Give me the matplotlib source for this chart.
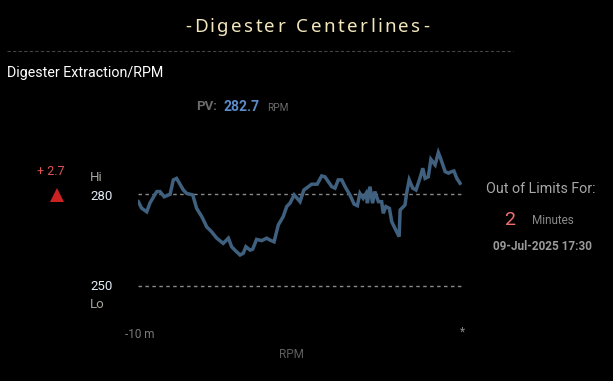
import matplotlib
matplotlib.use("Agg")
import matplotlib.pyplot as plt
from matplotlib.lines import Line2D
from matplotlib import font_manager

# ---------------- data ----------------
minutes = [-9.99, -9.89, -9.73, -9.63, -9.42, -9.32, -9.19, -9.01, -8.91, -8.81,
           -8.60, -8.50, -8.31, -8.19, -8.03, -7.88, -7.73, -7.57, -7.37, -7.21,
           -7.11, -7.01, -6.85, -6.75, -6.67, -6.54, -6.46, -6.34, -6.18, -6.03,
           -5.93, -5.80, -5.67, -5.52, -5.41, -5.31, -5.18, -5.00, -4.88, -4.74,
           -4.64, -4.47, -4.33, -4.23, -4.02, -3.92, -3.82, -3.71, -3.61, -3.46,
           -3.33, -3.23, -3.15, -3.05, -2.96, -2.92, -2.84, -2.76, -2.69, -2.58,
           -2.48, -2.43, -2.35, -2.24, -2.17, -2.07, -1.94, -1.91, -1.76, -1.71,
           -1.63, -1.52, -1.42, -1.30, -1.21, -1.14, -1.04, -0.96, -0.83, -0.73,
           -0.66, -0.52, -0.42, -0.32, -0.25, -0.16, -0.06]
rpm = [277.5, 275.4, 274.2, 277.1, 280.8, 280.8, 279.1, 279.9, 284.6, 285.1,
       281.3, 280.2, 279.7, 275.3, 272.6, 269.3, 267.7, 265.6, 263.9, 265.6,
       262.8, 261.7, 260.1, 260.7, 262.8, 261.7, 262.0, 265.2, 264.8, 265.6,
       265.0, 264.4, 269.9, 272.6, 275.9, 277.0, 279.7, 277.5, 281.3, 282.4,
       283.2, 283.2, 285.9, 285.6, 282.4, 281.9, 284.6, 284.6, 282.4, 279.7,
       276.7, 276.2, 280.2, 278.6, 280.2, 277.0, 282.4, 277.0, 280.8, 277.5,
       277.5, 273.7, 275.9, 275.3, 271.0, 268.8, 266.1, 274.8, 276.4, 280.2,
       284.6, 281.9, 281.3, 285.1, 288.4, 285.1, 285.6, 291.3, 289.5, 293.5,
       291.6, 287.3, 286.8, 287.3, 287.5, 285.1, 283.5]
hi_limit = 280
lo_limit = 250
pv = 282.7
deviation = 2.7
out_minutes = 2
timestamp = "09-Jul-2025 17:30"
x_start_label = "-10 m"
x_end_label = "*"

# ---------------- figure ----------------
W, H = 613, 381
fig = plt.figure(figsize=(W / 100, H / 100), dpi=100, facecolor="black")
renderer = fig.canvas.get_renderer()

def fx(px):
    return px / W

def fy(py):
    return 1 - py / H

ROB = ["Roboto", "DejaVu Sans"]
_names = {f.name for f in font_manager.fontManager.ttflist}
if "Liberation Sans Narrow" in _names:
    COND = ["Liberation Sans Narrow", "DejaVu Sans"]
else:
    COND = ROB

def fit_text(x, y, s, width, **kw):
    """Place text and shrink font so that it spans the given pixel width."""
    t = fig.text(fx(x), fy(y), s, **kw)
    w = t.get_window_extent(renderer).width
    if w > 0:
        t.set_fontsize(t.get_fontsize() * width / w)
    return t

# plot axes
ylo, yhi = 245, 297
ppu = 92 / 30.0
top_px = 194 - (yhi - 280) * ppu
bot_px = 286 + (250 - ylo) * ppu
ax = fig.add_axes([fx(138), fy(bot_px), fx(462) - fx(138), (bot_px - top_px) / H])
ax.set_facecolor("black")
ax.set_xlim(-10, 0)
ax.set_ylim(ylo, yhi)
for s in ax.spines.values():
    s.set_visible(False)
ax.set_xticks([])
ax.set_yticks([])
ax.axhline(hi_limit, color="#8a8a8a", lw=1.0, ls=(0, (2.5, 2.5)), zorder=1)
ax.axhline(lo_limit, color="#8a8a8a", lw=1.0, ls=(0, (2.5, 2.5)), zorder=1)
ax.plot(minutes, rpm, color="#40607f", lw=2.5, solid_joinstyle="miter", zorder=2)

# title with letter spacing
title = "-Digester Centerlines-"
spacing = 2.4
tkw = dict(fontsize=13.5, color="#f3e7bd", family=["Noto Sans", "DejaVu Sans"], va="center", ha="left")
widths = []
for ch in title:
    t = fig.text(0, 0, ch if ch != " " else "n", **tkw)
    widths.append(t.get_window_extent(renderer).width)
    t.remove()
sp_w = widths[title.index(" ")] * 0.55
widths = [sp_w if c == " " else w for c, w in zip(title, widths)]
total = sum(widths) + spacing * (len(title) - 1)
x = 307 - total / 2
for ch, w in zip(title, widths):
    if ch != " ":
        fig.text(fx(x), fy(27), ch, **tkw)
    x += w + spacing

# separator
fig.add_artist(Line2D([fx(7), fx(513)], [fy(50.5), fy(50.5)], color="#444444", lw=0.8,
                      ls=(0, (3, 2))))

fit_text(7, 73, "Digester Extraction/RPM", 157, color="white", fontsize=11.5,
         family=COND, va="center", ha="left")

# PV line
fit_text(196, 107, "PV:", 21, color="#6a6a6a", fontsize=12.5, fontweight="bold",
         family=COND, va="center", ha="left")
fit_text(223, 107, f"{pv:.1f}", 36, color="#5b8bc8", fontsize=12.5, fontweight="bold",
         family=COND, va="center", ha="left")
fit_text(267, 108, "RPM", 21, color="#6a6a6a", fontsize=8.5,
         family=COND, va="center", ha="left")

# left labels
fig.text(fx(51), fy(172), f"+ {deviation}", color="#e05555", fontsize=9,
         family=ROB, va="center", ha="center")
fig.add_artist(Line2D([fx(57)], [fy(194.5)], marker="^", markersize=9.5, color="#cc2222",
                      markeredgewidth=0))
fig.text(fx(90), fy(177), "Hi", color="#a9a39c", fontsize=9.5,
         family=ROB, va="center", ha="left")
fig.text(fx(90), fy(197), f"{hi_limit}", color="#e2ecf6", fontsize=9.5,
         family=ROB, va="center", ha="left")
fig.text(fx(90), fy(287), f"{lo_limit}", color="#e2ecf6", fontsize=9.5,
         family=ROB, va="center", ha="left")
fig.text(fx(90), fy(305), "Lo", color="#a9a39c", fontsize=9.5,
         family=ROB, va="center", ha="left")

# x labels
fig.text(fx(125), fy(335), x_start_label, color="#7a7a7a", fontsize=8.5,
         family=ROB, va="center", ha="left")
fig.text(fx(462), fy(332), x_end_label, color="#8a8a8a", fontsize=8.5,
         family=ROB, va="center", ha="center")
fig.text(fx(291), fy(355), "RPM", color="#5e5e5e", fontsize=8.5,
         family=ROB, va="center", ha="center")

# right panel
fig.text(fx(540.5), fy(189), "Out of Limits For:", color="#a8a8a8", fontsize=10.3,
         family=ROB, va="center", ha="center")
fig.text(fx(510), fy(220), f"{out_minutes}", color="#f07070", fontsize=14,
         family=ROB, va="center", ha="center")
fig.text(fx(532), fy(221), "Minutes", color="#8a8a8a", fontsize=8.5,
         family=ROB, va="center", ha="left")
fit_text(493, 247, timestamp, 99, color="#9a9a9a", fontsize=8.3, fontweight="bold",
         family=COND, va="center", ha="left")

fig.savefig("out.png", dpi=100, facecolor="black")
